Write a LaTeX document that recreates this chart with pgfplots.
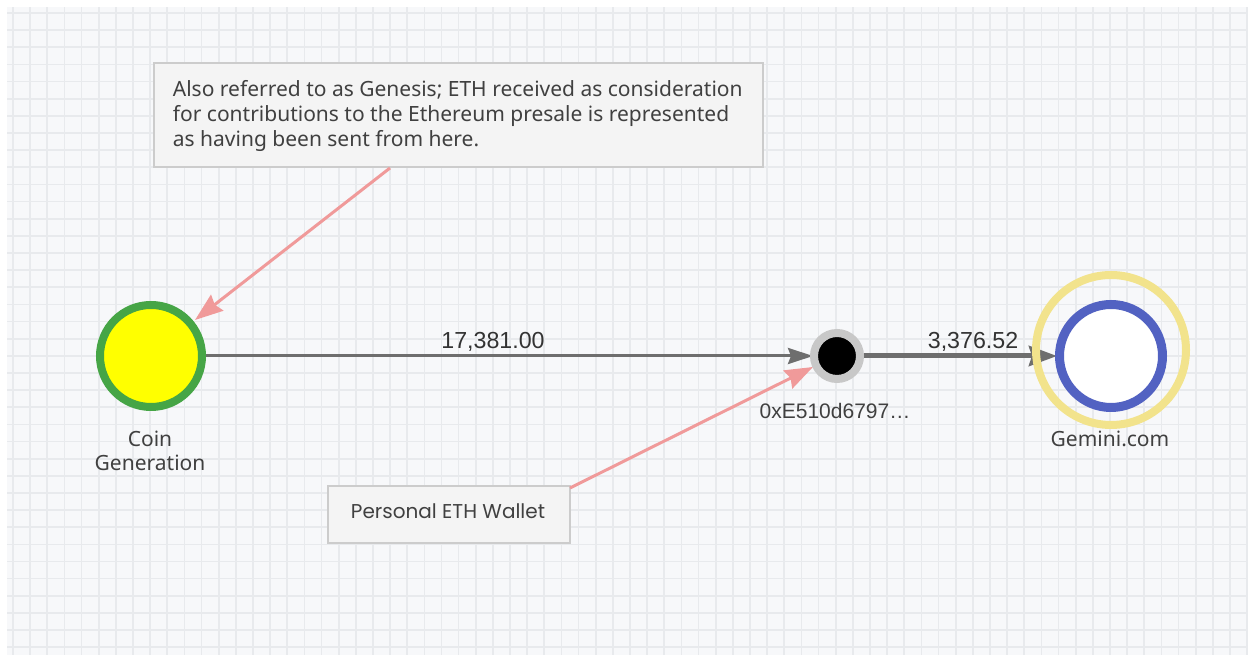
\documentclass[border=0pt]{standalone}
\usepackage{fontspec}
\usepackage{pgfplots}
\pgfplotsset{compat=1.18}
\usetikzlibrary{arrows.meta}
\setmainfont{Noto Sans}
\newfontfamily\numfont{Liberation Sans}
\newfontfamily\popfont{Poppins}

\definecolor{gridbg}{HTML}{F7F8FA}
\definecolor{gridline}{HTML}{E8EAED}
\definecolor{boxfill}{HTML}{F4F4F4}
\definecolor{boxedge}{HTML}{CCCCCC}
\definecolor{pinkline}{HTML}{F09A9A}
\definecolor{flow}{HTML}{6E6E6E}
\definecolor{coingreen}{HTML}{46A546}
\definecolor{coinyellow}{HTML}{FFFF00}
\definecolor{ringgray}{HTML}{C8C8C8}
\definecolor{halo}{HTML}{F2E38C}
\definecolor{gemblue}{HTML}{5262C2}
\definecolor{txt}{HTML}{404040}
\definecolor{numtxt}{HTML}{333333}

\begin{document}
\begin{tikzpicture}
\begin{axis}[
    width=624pt, height=329pt, scale only axis,
    xmin=0, xmax=1248, ymin=0, ymax=658,
    clip=false,
    axis line style={draw=none},
    major tick length=0pt,
    xtick={13,30.14,...,1248},
    ytick={10.8,27.94,...,646},
    xticklabels={}, yticklabels={},
    grid=major,
    major grid style={draw=gridline, line width=0.85pt},
    axis background/.style={fill=gridbg},
]

% white page margins around the grid
\addplot[draw=none, fill=white] coordinates {(0,651)(1248,651)(1248,658)(0,658)} -- cycle;
\addplot[draw=none, fill=white] coordinates {(0,0)(7,0)(7,658)(0,658)} -- cycle;
\addplot[draw=none, fill=white] coordinates {(0,0)(1248,0)(1248,3)(0,3)} -- cycle;

% annotation boxes
\addplot[draw=boxedge, line width=1pt, fill=boxfill] coordinates {(154,491)(763,491)(763,595)(154,595)} -- cycle;
\addplot[draw=boxedge, line width=1.2pt, fill=boxfill] coordinates {(328,115)(570,115)(570,172)(328,172)} -- cycle;

% halo around Gemini
\addplot[only marks, mark=o, mark size=37.5pt,
    mark options={draw=halo, line width=4pt}] coordinates {(1111,308)};

% flows
\addplot[flow, line width=1.5pt, -{Stealth[length=12.5pt, width=8pt, inset=1.5pt]}]
    coordinates {(206,302)(813,302)};
\addplot[flow, line width=2.5pt, -{Stealth[length=14pt, width=10pt, inset=1.5pt]}]
    coordinates {(864,302)(1057,302)};

% nodes
\addplot[only marks, mark=*, mark size=25.5pt,
    mark options={draw=coingreen, fill=coinyellow, line width=4pt}] coordinates {(151,302)};
\addplot[only marks, mark=*, mark size=11.5pt,
    mark options={draw=ringgray, fill=black, line width=4pt}] coordinates {(837,302)};
\addplot[only marks, mark=*, mark size=25.75pt,
    mark options={draw=gemblue, fill=white, line width=4.5pt}] coordinates {(1111,302)};

% annotation pointers
\addplot[pinkline, line width=1.5pt, -{Stealth[length=14pt, width=10pt, inset=1.5pt]}]
    coordinates {(390,490)(195,338)};
\addplot[pinkline, line width=1.5pt, -{Stealth[length=14pt, width=10pt, inset=1.5pt]}]
    coordinates {(570,170)(813,291)};

% flow amounts
\node[anchor=base, inner sep=0pt, text=numtxt, font=\numfont\fontsize{11.6}{13}\selectfont]
    at (493,309) {17,381.00};
\node[anchor=base, inner sep=0pt, text=numtxt, font=\numfont\fontsize{11.6}{13}\selectfont]
    at (973,309) {3,376.52};

% node labels
\node[anchor=base, inner sep=0pt, text=txt, font=\numfont\fontsize{10.5}{12}\selectfont]
    at (835,239) {0xE510d6797…};
\node[anchor=base, inner sep=0pt, text=txt, font=\fontsize{10.5}{12}\selectfont]
    at (150,211) {Coin};
\node[anchor=base, inner sep=0pt, text=txt, font=\fontsize{10.5}{12}\selectfont]
    at (150,187) {Generation};
\node[anchor=base, inner sep=0pt, text=txt, font=\fontsize{10.5}{12}\selectfont]
    at (1110,211) {Gemini.com};

% annotation texts
\node[anchor=base west, inner sep=0pt, text=txt, font=\fontsize{10.5}{12}\selectfont]
    at (172.5,561) {Also referred to as Genesis; ETH received as consideration};
\node[anchor=base west, inner sep=0pt, text=txt, font=\fontsize{10.5}{12}\selectfont]
    at (172.5,536) {for contributions to the Ethereum presale is represented};
\node[anchor=base west, inner sep=0pt, text=txt, font=\fontsize{10.5}{12}\selectfont]
    at (172.5,511.5) {as having been sent from here.};
\node[anchor=base, inner sep=0pt, text=txt, font=\popfont\fontsize{10}{12}\selectfont]
    at (448,139) {Personal ETH Wallet};

\end{axis}
\pgfresetboundingbox
\path (current axis.south west) rectangle (current axis.north east);
\end{tikzpicture}
\end{document}
